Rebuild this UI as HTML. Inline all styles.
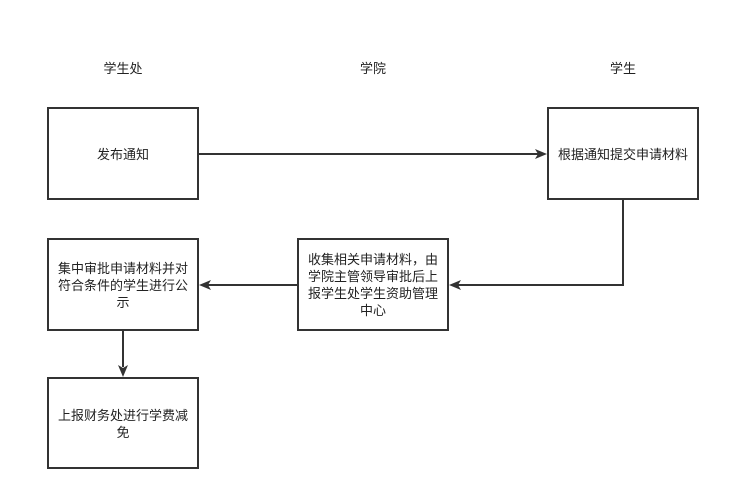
<!DOCTYPE html>
<html><head><meta charset="utf-8"><style>
html,body{margin:0;padding:0;background:#fff;}
body{width:730px;height:501px;position:relative;overflow:hidden;font-family:"Liberation Sans","Noto Sans CJK SC","WenQuanYi Zen Hei",sans-serif;font-size:13px;color:#222;}
.t{position:absolute;display:flex;align-items:center;justify-content:center;text-align:center;line-height:17px;}
.h{position:absolute;width:80px;text-align:center;line-height:16px;}
svg{position:absolute;left:0;top:0;}
</style></head><body>
<svg width="730" height="501" viewBox="0 0 730 501">
<g fill="none" stroke="#333" stroke-width="2">
<rect x="48" y="108" width="150" height="91"/>
<rect x="548" y="108" width="150" height="91"/>
<rect x="298" y="239" width="150" height="91"/>
<rect x="48" y="239" width="150" height="91"/>
<rect x="48" y="378" width="150" height="90"/>
<path d="M199 154 H538"/>
<path d="M623 200 V285 H458"/>
<path d="M297 285 H208"/>
<path d="M123 331 V367"/>
</g>
<g fill="#333">
<path d="M547 154 L535 149 L538 154 L535 159 Z"/>
<path d="M449 285 L461 280 L458 285 L461 290 Z"/>
<path d="M199 285 L211 280 L208 285 L211 290 Z"/>
<path d="M123 377 L118 365 L123 368 L128 365 Z"/>
</g>
</svg>
<div class="h" style="left:83px;top:61px;">学生处</div>
<div class="h" style="left:333px;top:61px;">学院</div>
<div class="h" style="left:583px;top:61px;">学生</div>
<div class="t" style="left:52px;top:108px;width:142px;height:92px;">发布通知</div>
<div class="t" style="left:550px;top:108px;width:146px;height:92px;">根据通知提交申请材料</div>
<div class="t" style="left:304px;top:239px;width:138px;height:92px;">收集相关申请材料，由<br>学院主管领导审批后上<br>报学生处学生资助管理<br>中心</div>
<div class="t" style="left:54px;top:239px;width:138px;height:92px;">集中审批申请材料并对<br>符合条件的学生进行公<br>示</div>
<div class="t" style="left:54px;top:378px;width:138px;height:91px;">上报财务处进行学费减<br>免</div>
</body></html>
